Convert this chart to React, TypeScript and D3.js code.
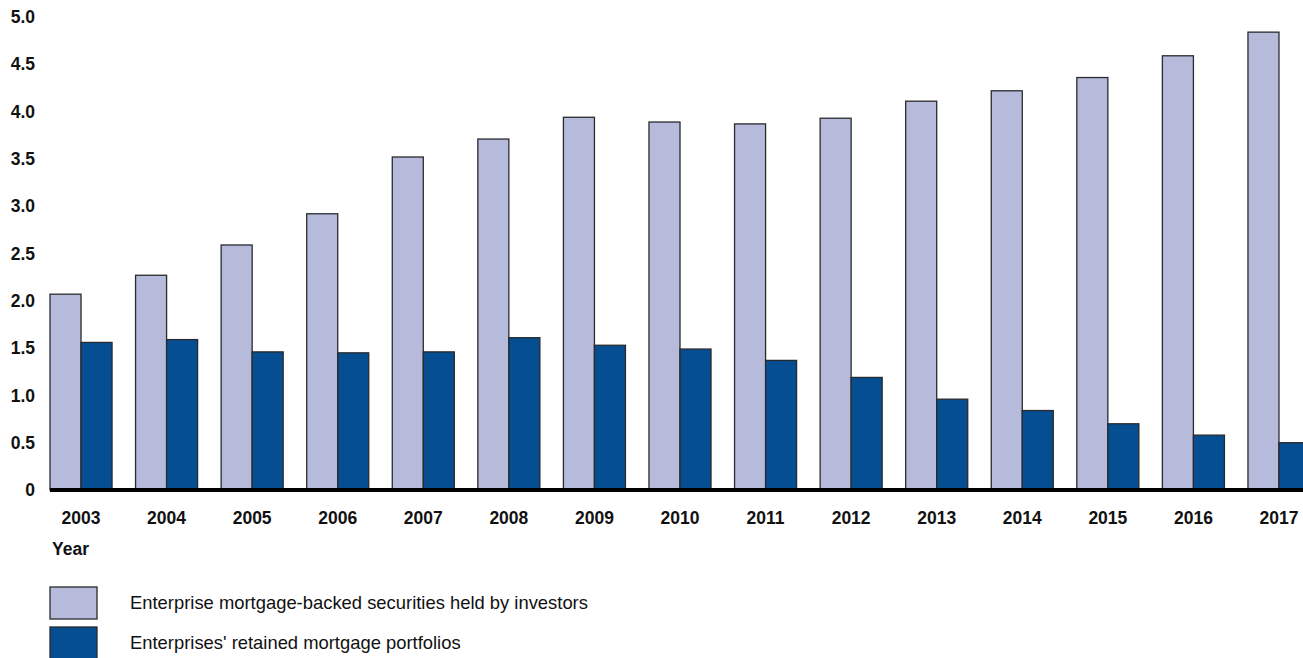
import * as d3 from "d3";
import { useEffect, useRef } from "react";

const years = ["2003", "2004", "2005", "2006", "2007", "2008", "2009", "2010", "2011", "2012", "2013", "2014", "2015", "2016", "2017"];
const mbsHeld = [2.07, 2.27, 2.59, 2.92, 3.52, 3.71, 3.94, 3.89, 3.87, 3.93, 4.11, 4.22, 4.36, 4.59, 4.84];
const retained = [1.56, 1.59, 1.46, 1.45, 1.46, 1.61, 1.53, 1.49, 1.37, 1.19, 0.96, 0.84, 0.7, 0.58, 0.5];
const yTicks = [0, 0.5, 1, 1.5, 2, 2.5, 3, 3.5, 4, 4.5, 5];
const seriesNames = ["Enterprise mortgage-backed securities held by investors", "Enterprises' retained mortgage portfolios"];
const colors = ["#b7bbdb", "#044e91"];

export default function App() {
  const ref = useRef<SVGSVGElement | null>(null);

  useEffect(() => {
    if (!ref.current) return;
    const width = 1303;
    const height = 658;
    const font = "'Liberation Sans', Arial, sans-serif";

    const svg = d3.select(ref.current);
    svg.selectAll("*").remove();

    const x = d3.scaleBand<string>().domain(years).range([50, 1310]).paddingInner(0.275).paddingOuter(0);
    const xSub = d3.scaleBand<number>().domain([0, 1]).range([0, x.bandwidth()]);
    const y = d3.scaleLinear().domain([0, 5]).range([490, 17]);

    const rows = years.map((yr, i) => ({ yr, vals: [mbsHeld[i], retained[i]] }));

    const groups = svg
      .selectAll("g.grp")
      .data(rows)
      .join("g")
      .attr("class", "grp")
      .attr("transform", (d) => `translate(${x(d.yr)},0)`);

    groups
      .selectAll("rect")
      .data((d) => d.vals.map((v, k) => ({ v, k })))
      .join("rect")
      .attr("x", (d) => xSub(d.k)!)
      .attr("width", xSub.bandwidth())
      .attr("y", (d) => y(d.v))
      .attr("height", (d) => y(0) - y(d.v))
      .attr("fill", (d) => colors[d.k])
      .attr("stroke", "#2a2a2e")
      .attr("stroke-width", 1.3);

    // baseline
    svg.append("line")
      .attr("x1", 50)
      .attr("x2", width)
      .attr("y1", y(0))
      .attr("y2", y(0))
      .attr("stroke", "#000")
      .attr("stroke-width", 4);

    // y tick labels
    svg.append("g")
      .selectAll("text")
      .data(yTicks)
      .join("text")
      .attr("x", 35)
      .attr("y", (d) => y(d))
      .attr("dy", "0.35em")
      .attr("text-anchor", "end")
      .style("font-family", font)
      .style("font-weight", "bold")
      .style("font-size", "17.5px")
      .attr("fill", "#111")
      .text((d) => (d === 0 ? "0" : d3.format(".1f")(d)));

    // x labels
    svg.append("g")
      .selectAll("text")
      .data(years)
      .join("text")
      .attr("x", (d) => x(d)! + x.bandwidth() / 2)
      .attr("y", 524)
      .attr("text-anchor", "middle")
      .style("font-family", font)
      .style("font-weight", "bold")
      .style("font-size", "17.5px")
      .attr("fill", "#111")
      .text((d) => d);

    svg.append("text")
      .attr("x", 52)
      .attr("y", 555)
      .style("font-family", font)
      .style("font-weight", "bold")
      .style("font-size", "17.5px")
      .attr("fill", "#111")
      .text("Year");

    // legend
    const leg = svg.append("g");
    seriesNames.forEach((name, i) => {
      const top = 587 + i * 40;
      leg.append("rect")
        .attr("x", 50)
        .attr("y", top)
        .attr("width", 47)
        .attr("height", 32)
        .attr("fill", colors[i])
        .attr("stroke", "#2a2a2e")
        .attr("stroke-width", 1.3);
      leg.append("text")
        .attr("x", 130)
        .attr("y", top + 16)
        .attr("dy", "0.35em")
        .style("font-family", font)
        .style("font-size", "18.4px")
        .attr("fill", "#111")
        .text(name);
    });

    svg.attr("width", width).attr("height", height);
  }, []);

  return (
    <svg
      ref={ref}
      width={1303}
      height={658}
      style={{ position: "absolute", left: 0, top: 0, background: "#fff" }}
      role="img"
      aria-label="Enterprise mortgage securities and retained portfolios"
    />
  );
}
